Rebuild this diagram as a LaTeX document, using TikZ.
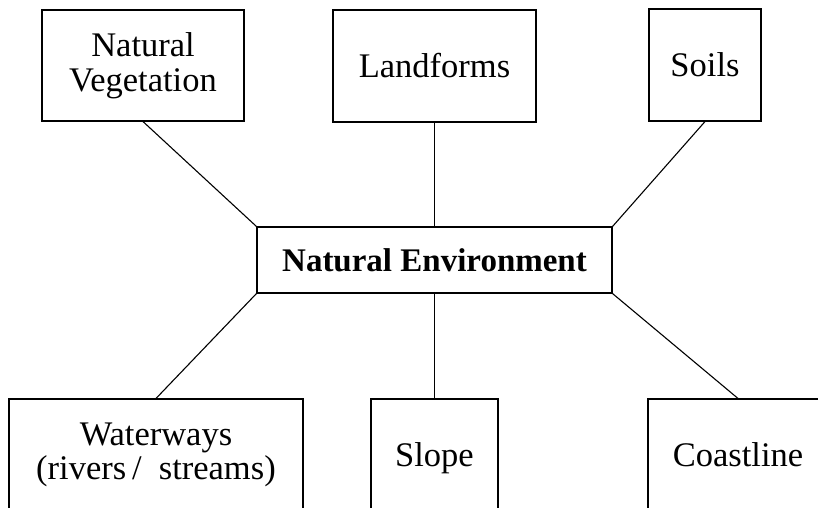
\documentclass[tikz,border=0pt]{standalone}
\usepackage{fontspec}
\setmainfont{Liberation Serif}
\usepackage{tikz}
\usetikzlibrary{calc,shapes}

\begin{document}
\begin{tikzpicture}[x=1pt, y=-1pt, line width=1.1pt, -,
    topicbox/.style={draw,rectangle,inner sep=0pt,align=center,
      font=\fontsize{34.5}{34.5}\selectfont},
    oneline/.style={text height=28pt,text depth=6pt}]
  \clip (0,0) rectangle (818,507);

  \node [topicbox,oneline,minimum width=355,minimum height=66,font=\fontsize{33}{35}\selectfont\bfseries] (env) at (434.5,260) {Natural Environment};

  \node [topicbox,minimum width=202,minimum height=111] (veg)   at (143,65.5)  {Natural\\Vegetation};
  \node [topicbox,oneline,minimum width=203,minimum height=112] (land)  at (434.5,66)  {Landforms};
  \node [topicbox,oneline,minimum width=112,minimum height=112] (soil)  at (705,65)    {Soils};

  \node [topicbox,minimum width=294,minimum height=112] (water) at (156,455)   {Waterways\\(rivers\,/\ \ streams)};
  \node [topicbox,oneline,minimum width=127,minimum height=112] (slope) at (434.5,455) {Slope};
  \node [topicbox,oneline,minimum width=180,minimum height=112] (coast) at (738,455)   {Coastline};

  \path  (veg.south)   edge (env.north west);
  \path  (land.south)  edge (env.north);
  \path  (soil.south)  edge (env.north east);
  \path  (water.north) edge (env.south west);
  \path  (slope.north) edge (env.south);
  \path  (coast.north) edge (env.south east);

\end{tikzpicture}
\end{document}
